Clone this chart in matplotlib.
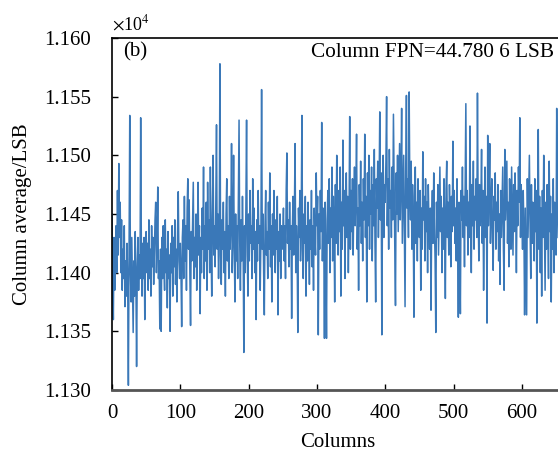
import matplotlib
matplotlib.use("Agg")
import matplotlib.pyplot as plt
from matplotlib.ticker import FuncFormatter

plt.rcParams['font.family'] = ['Liberation Serif', 'DejaVu Serif']
plt.rcParams['mathtext.fontset'] = 'stix'

# column averages (LSB), one value per column
col_avg = [
    # 0-49
    11450, 11395, 11360, 11430, 11385, 11420, 11440, 11400, 11470, 11415,
    11493, 11430, 11460, 11400, 11445, 11385, 11420, 11395, 11440, 11371,
    11410, 11380, 11425, 11390, 11304, 11420, 11534, 11400, 11375, 11430,
    11390, 11349, 11410, 11380, 11435, 11395, 11320, 11405, 11430, 11385,
    11415, 11395, 11532, 11420, 11380, 11425, 11395, 11430, 11360, 11410,
    # 50-99
    11435, 11400, 11425, 11385, 11445, 11395, 11420, 11380, 11440, 11405,
    11430, 11390, 11415, 11445, 11460, 11400, 11425, 11473, 11395, 11410,
    11352, 11420, 11350, 11430, 11395, 11440, 11405, 11385, 11445, 11400,
    11420, 11370, 11435, 11395, 11415, 11350, 11425, 11400, 11440, 11380,
    11430, 11405, 11445, 11390, 11420, 11375, 11435, 11469, 11410, 11395,
    # 100-149
    11425, 11400, 11354, 11430, 11445, 11395, 11465, 11410, 11440, 11385,
    11455, 11480, 11420, 11462, 11400, 11355, 11435, 11410, 11445, 11477,
    11395, 11430, 11405, 11450, 11385, 11425, 11477, 11415, 11440, 11365,
    11430, 11400, 11455, 11420, 11490, 11395, 11440, 11410, 11460, 11385,
    11477, 11420, 11445, 11400, 11490, 11425, 11380, 11450, 11500, 11415,
    # 150-199
    11440, 11405, 11460, 11526, 11420, 11450, 11395, 11435, 11578, 11415,
    11390, 11445, 11420, 11460, 11400, 11435, 11380, 11450, 11480, 11410,
    11440, 11395, 11465, 11420, 11445, 11510, 11400, 11430, 11500, 11420,
    11375, 11450, 11410, 11440, 11395, 11460, 11530, 11425, 11385, 11445,
    11410, 11465, 11420, 11332, 11440, 11400, 11455, 11530, 11415, 11380,
    # 200-249
    11450, 11410, 11470, 11425, 11440, 11395, 11480, 11420, 11455, 11400,
    11435, 11360, 11445, 11410, 11470, 11425, 11440, 11385, 11430, 11556,
    11420, 11450, 11400, 11364, 11440, 11470, 11415, 11435, 11395, 11460,
    11420, 11485, 11405, 11440, 11375, 11450, 11415, 11470, 11430, 11400,
    11445, 11420, 11465, 11364, 11435, 11410, 11450, 11395, 11440, 11420,
    # 250-299
    11430, 11455, 11410, 11440, 11395, 11470, 11502, 11425, 11445, 11405,
    11460, 11420, 11440, 11361, 11435, 11465, 11415, 11450, 11510, 11400,
    11440, 11420, 11349, 11455, 11430, 11470, 11410, 11445, 11534, 11420,
    11395, 11450, 11425, 11465, 11380, 11440, 11410, 11460, 11430, 11390,
    11445, 11420, 11470, 11405, 11440, 11385, 11455, 11430, 11415, 11485,
    # 300-349
    11440, 11465, 11347, 11450, 11420, 11470, 11435, 11528, 11410, 11455,
    11430, 11344, 11460, 11415, 11344, 11445, 11470, 11425, 11480, 11400,
    11455, 11430, 11490, 11410, 11465, 11440, 11375, 11475, 11425, 11500,
    11445, 11415, 11470, 11435, 11490, 11380, 11460, 11420, 11513, 11440,
    11470, 11395, 11455, 11485, 11430, 11465, 11400, 11450, 11533, 11420,
    # 350-399
    11470, 11435, 11480, 11415, 11460, 11490, 11440, 11465, 11518, 11420,
    11455, 11385, 11475, 11440, 11495, 11425, 11460, 11410, 11480, 11445,
    11518, 11430, 11465, 11375, 11485, 11440, 11500, 11420, 11470, 11450,
    11490, 11410, 11475, 11440, 11505, 11425, 11375, 11480, 11455, 11495,
    11430, 11470, 11537, 11445, 11485, 11347, 11460, 11500, 11430, 11475,
    # 400-449
    11460, 11495, 11550, 11440, 11480, 11420, 11505, 11455, 11470, 11430,
    11490, 11445, 11535, 11475, 11420, 11372, 11485, 11450, 11500, 11435,
    11470, 11510, 11445, 11480, 11540, 11425, 11465, 11500, 11440, 11371,
    11490, 11551, 11455, 11480, 11430, 11554, 11470, 11445, 11495, 11420,
    11475, 11440, 11362, 11465, 11490, 11425, 11460, 11410, 11480, 11445,
    # 450-499
    11430, 11470, 11385, 11455, 11420, 11503, 11445, 11465, 11410, 11480,
    11435, 11460, 11400, 11475, 11440, 11420, 11455, 11368, 11445, 11470,
    11425, 11485, 11440, 11410, 11349, 11460, 11430, 11475, 11415, 11450,
    11490, 11435, 11465, 11400, 11455, 11420, 11480, 11440, 11378, 11470,
    11495, 11430, 11460, 11415, 11475, 11445, 11405, 11465, 11435, 11512,
    # 500-549
    11440, 11470, 11425, 11455, 11410, 11480, 11435, 11362, 11460, 11420,
    11365, 11470, 11445, 11490, 11430, 11465, 11405, 11480, 11544, 11440,
    11470, 11415, 11460, 11430, 11525, 11450, 11400, 11475, 11440, 11495,
    11420, 11465, 11445, 11480, 11430, 11553, 11455, 11410, 11475, 11440,
    11460, 11505, 11425, 11470, 11385, 11450, 11490, 11430, 11465, 11357,
    # 550-599
    11517, 11440, 11470, 11510, 11425, 11455, 11480, 11430, 11402, 11465,
    11445, 11485, 11420, 11460, 11435, 11475, 11410, 11450, 11390, 11470,
    11430, 11460, 11490, 11420, 11385, 11505, 11445, 11470, 11495, 11425,
    11460, 11405, 11480, 11440, 11420, 11490, 11450, 11415, 11475, 11435,
    11485, 11455, 11400, 11470, 11440, 11490, 11460, 11532, 11430, 11475,
    # 600-653
    11450, 11420, 11470, 11435, 11364, 11455, 11410, 11364, 11480, 11430,
    11465, 11500, 11440, 11395, 11475, 11425, 11460, 11445, 11410, 11480,
    11435, 11470, 11357, 11450, 11522, 11420, 11465, 11400, 11455, 11380,
    11470, 11430, 11500, 11445, 11385, 11460, 11420, 11475, 11440, 11395,
    11495, 11435, 11465, 11375, 11450, 11420, 11480, 11400, 11460, 11440,
    11415, 11540, 11455, 11430,
]
columns = list(range(len(col_avg)))

x_ticks = [0, 100, 200, 300, 400, 500, 600]
y_ticks = [11300, 11350, 11400, 11450, 11500, 11550, 11600]

fig = plt.figure(figsize=(5.58, 4.58), dpi=100)
# axes runs a little past the right edge, as in the cropped original
ax = fig.add_axes([0.2007, 0.1485, 0.808, 0.7686])

ax.plot(columns, col_avg, color='#3a78b8', lw=1.1)

ax.set_xlim(0, 660)
ax.set_ylim(11300, 11600)
ax.set_xticks(x_ticks)
ax.set_yticks(y_ticks)
ax.yaxis.set_major_formatter(FuncFormatter(lambda v, p: f"{v / 1e4:.3f}"))
ax.tick_params(direction='in', length=4, labelsize=15, width=1)
ax.tick_params(axis='y', pad=15)
ax.tick_params(axis='x', pad=10)

ax.spines['left'].set_linewidth(1.2)
ax.spines['top'].set_linewidth(1.2)
ax.spines['bottom'].set_linewidth(2.0)
ax.spines['bottom'].set_color('#555555')

ax.set_xlabel('Columns', fontsize=15, labelpad=7)
ax.set_ylabel('Column average/LSB', fontsize=15, labelpad=9)

ax.text(0.024, 0.96, '(b)', transform=ax.transAxes, fontsize=15, va='center', ha='left')
ax.text(0.98, 0.96, 'Column FPN=44.780 6 LSB', transform=ax.transAxes,
        fontsize=15.3, va='center', ha='right')
ax.text(0.0, 1.01, r'$\times$10$^4$', transform=ax.transAxes, fontsize=13,
        va='bottom', ha='left')

plt.savefig('out.png', dpi=100)
plt.close()
